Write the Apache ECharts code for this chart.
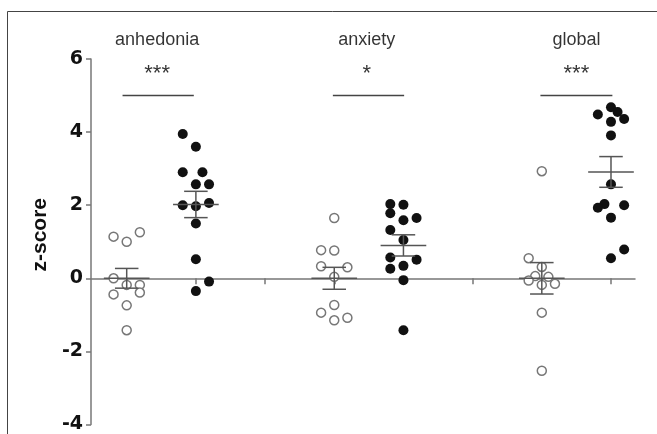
<!DOCTYPE html>
<html>
<head>
<meta charset="utf-8">
<script src="https://cdn.jsdelivr.net/npm/echarts@6/dist/echarts.min.js"></script>
<style>
html,body{margin:0;padding:0;background:#fff;}
#c{width:657px;height:434px;}
</style>
</head>
<body>
<div id="c"></div>
<script>
// ---- data ----
const panels = ['anhedonia', 'anxiety', 'global'];
const panelTitlePos = [1.44, 4.47, 7.5];
const stars = ['***', '*', '***'];
const sigLineStart = [0.94, 3.98, 6.98];
const sigLineEnd = [1.97, 5.01, 8.02];
const sigLineY = 5.02;
const titleY = 6.52;
const starY = 5.58;

const groupPos = [1, 2, 4, 5, 7, 8];          // x positions of the 6 groups
const groupFilled = [false, true, false, true, false, true];

const anhedoniaOpen = [1.14, 1.00, 1.26, 0.00, -0.18, -0.18, -0.44, -0.39, -0.74, -1.42];
const anhedoniaOpenCol = [-1, 0, 1, -1, 0, 1, -1, 1, 0, 0];
const anhedoniaFilled = [3.95, 3.60, 2.90, 2.90, 2.57, 2.57, 2.00, 1.97, 2.06, 1.50, 0.52, -0.09, -0.35];
const anhedoniaFilledCol = [-1, 0, -1, 0.5, 0, 1, -1, 0, 1, 0, 0, 1, 0];

const anxietyOpen = [1.65, 0.77, 0.76, 0.33, 0.30, 0.04, -0.73, -0.94, -1.15, -1.08];
const anxietyOpenCol = [0, -1, 0, -1, 1, 0, 0, -1, 0, 1];
const anxietyFilled = [2.03, 2.01, 1.78, 1.59, 1.65, 1.32, 1.05, 0.57, 0.51, 0.34, 0.26, -0.05, -1.42];
const anxietyFilledCol = [-1, 0, -1, 0, 1, -1, 0, -1, 1, 0, -1, 0, 0];

const globalOpen = [2.93, 0.55, 0.31, 0.06, 0.04, -0.06, -0.15, -0.18, -0.94, -2.53];
const globalOpenCol = [0, -1, 0, -0.5, 0.5, -1, 1, 0, 0, 0];
const globalFilled = [4.68, 4.55, 4.48, 4.36, 4.28, 3.91, 2.57, 2.03, 1.93, 2.00, 1.66, 0.79, 0.55];
const globalFilledCol = [0, 0.5, -1, 1, 0, 0, 0, -0.5, -1, 1, 0, 1, 0];

const groupMeans = [0.00, 2.02, 0.00, 0.90, 0.00, 2.91];
const groupSEM = [0.27, 0.36, 0.30, 0.29, 0.43, 0.42];

const yTicks = [-4, -2, 0, 2, 4, 6];
const xTickPositions = [1, 2, 3, 4, 5, 6, 7, 8];

// ---- build chart ----
const groupValues = [anhedoniaOpen, anhedoniaFilled, anxietyOpen, anxietyFilled, globalOpen, globalFilled];
const groupCols = [anhedoniaOpenCol, anhedoniaFilledCol, anxietyOpenCol, anxietyFilledCol, globalOpenCol, globalFilledCol];
const JITTER = 0.19;
const FONT = 'Arial, "Liberation Sans", Helvetica, sans-serif';

const openData = [], filledData = [];
groupValues.forEach((vals, g) => {
  vals.forEach((v, i) => {
    const pt = [groupPos[g] + groupCols[g][i] * JITTER, v];
    (groupFilled[g] ? filledData : openData).push(pt);
  });
});

const errData = groupPos.map((p, g) => [p, groupMeans[g], groupSEM[g]]);

const textData = [];
panels.forEach((name, i) => {
  textData.push({ value: [panelTitlePos[i], titleY], label: { formatter: name, fontSize: 18 } });
  textData.push({ value: [panelTitlePos[i], starY], label: { formatter: stars[i], fontSize: 22 } });
});

const sigLines = panels.map((n, i) => ({ coords: [[sigLineStart[i], sigLineY], [sigLineEnd[i], sigLineY]] }));

const chart = echarts.init(document.getElementById('c'));
chart.setOption({
  animation: false,
  backgroundColor: '#fff',
  grid: { left: 91, right: 22, top: 59, bottom: 8.3, containLabel: false },
  graphic: [{
    type: 'polyline',
    shape: { points: [[7.5, 434], [7.5, 11.5], [657, 11.5]] },
    style: { stroke: '#444', lineWidth: 1, fill: null },
    silent: true
  }],
  xAxis: {
    type: 'value', min: 0.484, max: 8.347,
    axisLine: { show: true, onZero: true, lineStyle: { color: '#777', width: 1.5 } },
    axisTick: { show: true, customValues: xTickPositions, length: 6, lineStyle: { color: '#777', width: 1.5 } },
    axisLabel: { show: false },
    splitLine: { show: false }
  },
  yAxis: {
    type: 'value', min: -4, max: 6, interval: 2,
    name: 'z-score', nameLocation: 'middle', nameGap: 38,
    nameTextStyle: { fontFamily: FONT, fontWeight: 'bold', fontSize: 21, color: '#111', padding: [0, 0, 0, 14] },
    axisLine: { show: true, onZero: false, lineStyle: { color: '#777', width: 1.5 } },
    axisTick: { show: true, length: 5, lineStyle: { color: '#777', width: 1.5 } },
    axisLabel: { fontFamily: '"DejaVu Sans", sans-serif', fontWeight: 'bold', fontSize: 19, color: '#111', margin: 8,
      customValues: yTicks },
    splitLine: { show: false }
  },
  series: [
    {
      type: 'scatter', data: openData, symbol: 'circle', symbolSize: 9,
      itemStyle: { color: '#fff', borderColor: '#777', borderWidth: 1.5, opacity: 1 },
      z: 2
    },
    {
      type: 'scatter', data: filledData, symbol: 'circle', symbolSize: 10,
      itemStyle: { color: '#111', opacity: 1 },
      z: 2
    },
    {
      type: 'custom', z: 3,
      data: errData,
      renderItem: function (params, api) {
        const x = api.value(0), m = api.value(1), s = api.value(2);
        const top = api.coord([x, m + s]);
        const bot = api.coord([x, m - s]);
        const mid = api.coord([x, m]);
        const capL = api.coord([x - 0.17, m])[0], capR = api.coord([x + 0.17, m])[0];
        const meanL = api.coord([x - 0.33, m])[0], meanR = api.coord([x + 0.33, m])[0];
        const st = { stroke: '#555', lineWidth: 1.5, fill: null };
        return {
          type: 'group',
          children: [
            { type: 'line', shape: { x1: top[0], y1: top[1], x2: bot[0], y2: bot[1] }, style: st },
            { type: 'line', shape: { x1: capL, y1: top[1], x2: capR, y2: top[1] }, style: st },
            { type: 'line', shape: { x1: capL, y1: bot[1], x2: capR, y2: bot[1] }, style: st },
            { type: 'line', shape: { x1: meanL, y1: mid[1], x2: meanR, y2: mid[1] }, style: st }
          ]
        };
      }
    },
    {
      type: 'lines', coordinateSystem: 'cartesian2d', data: sigLines,
      lineStyle: { color: '#444', width: 1.3, opacity: 1 },
      symbol: 'none', z: 3
    },
    {
      type: 'scatter', data: textData, symbolSize: 0, clip: false, silent: true,
      label: { show: true, position: 'inside', color: '#000', fontFamily: FONT, align: 'center', verticalAlign: 'middle' },
      z: 4
    }
  ]
});
</script>
</body>
</html>
